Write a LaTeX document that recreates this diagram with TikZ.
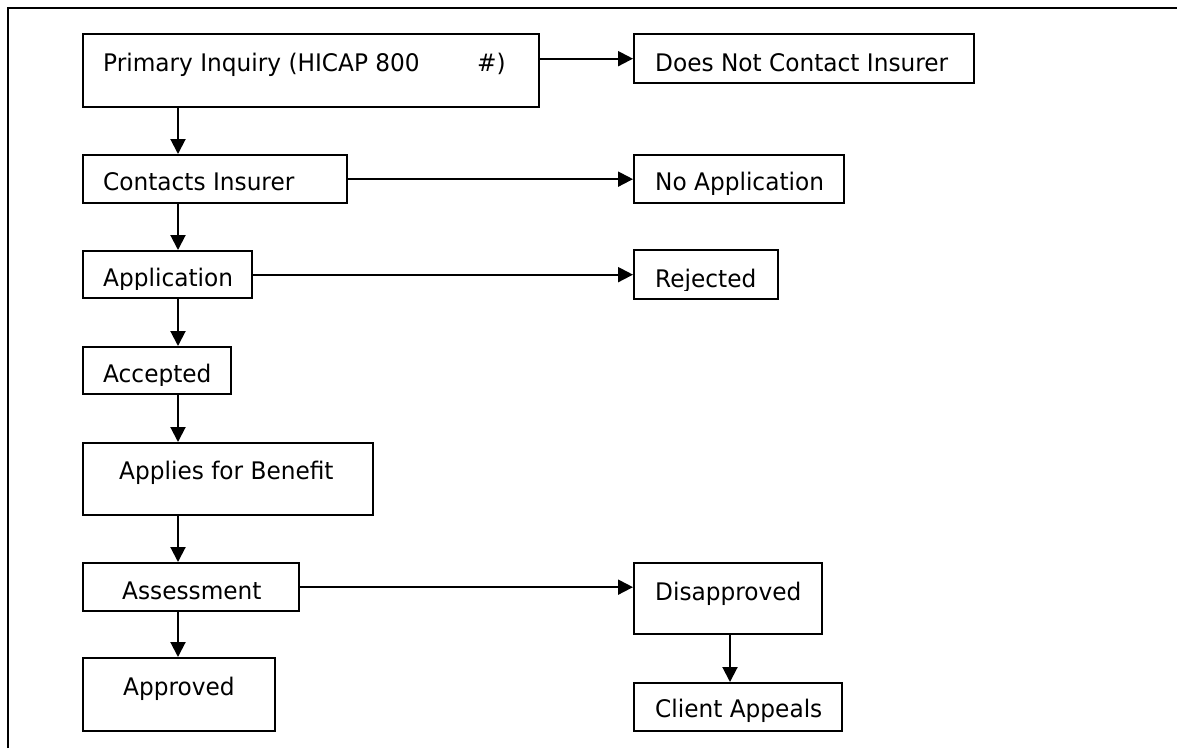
\documentclass[tikz,border=0pt]{standalone}
\usepackage{fontspec}
\setmainfont{DejaVu Sans}[FakeStretch=0.96]
\usetikzlibrary{arrows.meta,calc}
\tikzset{
  boxst/.style={draw=black, line width=2.3pt, rectangle, inner sep=0pt, anchor=north west, fill=none},
  lbl/.style={anchor=base west, inner sep=0pt, font=\fontsize{24.2}{29}\selectfont},
  arr/.style={line width=2pt, -{Triangle[length=15pt,width=15pt]}},
  frame/.style={line width=2.8pt}
}
% name, x, y, w, h, text x, baseline, text
\newcommand{\flowbox}[8]{%
  \node[boxst, minimum width=#4pt, minimum height=#5pt] (#1) at (#2,#3) {};
  \begin{scope}
    \clip ([yshift=10pt]#1.south west) rectangle (#1.north east);
    \node[lbl] (#1-t) at (#6,#7) {#8};
  \end{scope}
}
\begin{document}
\begin{tikzpicture}[x=1pt,y=-1pt]
\useasboundingbox (0,0) rectangle (1177,748);
\draw[frame] (8,748) -- (8,8) -- (1177,8);

\flowbox{prim}{82}{33}{456}{73}{103}{71}{Primary Inquiry (HICAP 800\hspace{50pt} \#)}
\flowbox{dnc}{633}{33}{340}{49}{655}{71}{Does Not Contact Insurer}
\flowbox{ci}{82}{154}{264}{48}{103}{190}{Contacts Insurer}
\flowbox{na}{633}{154}{210}{48}{655}{190}{No Application}
\flowbox{app}{82}{250}{169}{47}{103}{286}{Application}
\flowbox{rej}{633}{249}{144}{49}{655}{287}{Rejected}
\flowbox{acc}{82}{346}{148}{47}{103}{382}{Accepted}
\flowbox{afb}{82}{442}{290}{72}{119}{479}{Applies for Benefit}
\flowbox{ass}{82}{562}{216}{48}{122}{599}{Assessment}
\flowbox{dis}{633}{562}{188}{71}{655}{600}{Disapproved}
\flowbox{apr}{82}{657}{192}{73}{123}{695}{Approved}
\flowbox{cla}{633}{682}{208}{48}{655}{717}{Client Appeals}

\coordinate (col) at (178,0);
\coordinate (col2) at (730,0);

\draw[arr] ([yshift=-25pt]prim.north east) -- (prim.north east |- dnc.west) -- (dnc.west);
\draw[arr] (prim.south -| col) -- (ci.north -| col);
\draw[arr] (ci.east) -- (ci.east -| na.west);
\draw[arr] (ci.south -| col) -- (app.north -| col);
\draw[arr] (app.east) -- (app.east -| rej.west);
\draw[arr] (app.south -| col) -- (acc.north -| col);
\draw[arr] (acc.south -| col) -- (afb.north -| col);
\draw[arr] (afb.south -| col) -- (ass.north -| col);
\draw[arr] (ass.east) -- (ass.east -| dis.west);
\draw[arr] (ass.south -| col) -- (apr.north -| col);
\draw[arr] (dis.south -| col2) -- (cla.north -| col2);
\end{tikzpicture}
\end{document}
